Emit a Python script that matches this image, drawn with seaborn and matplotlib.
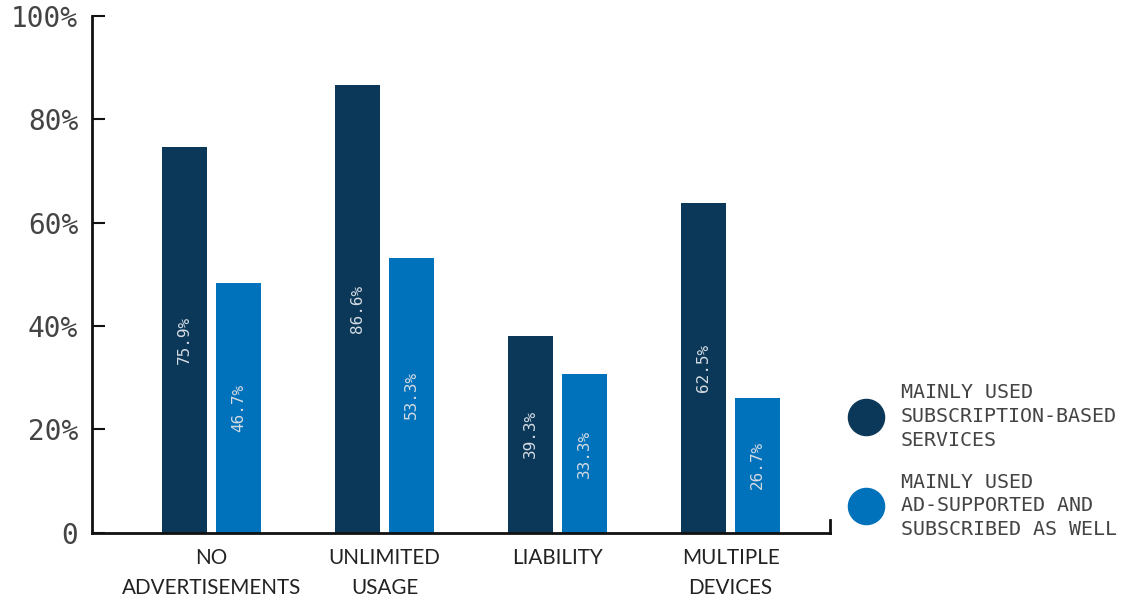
import matplotlib
matplotlib.use("Agg")
import matplotlib.pyplot as plt
from matplotlib.lines import Line2D
import seaborn as sns
import pandas as pd

categories = ["NO\nADVERTISEMENTS", "UNLIMITED\nUSAGE", "LIABILITY", "MULTIPLE\nDEVICES"]
series_names = ["MAINLY USED\nSUBSCRIPTION-BASED\nSERVICES",
                "MAINLY USED\nAD-SUPPORTED AND\nSUBSCRIBED AS WELL"]
subscription_values = [74.7, 86.7, 38.0, 63.8]
ad_supported_values = [48.4, 53.1, 30.6, 26.1]
subscription_labels = ["75.9%", "86.6%", "39.3%", "62.5%"]
ad_supported_labels = ["46.7%", "53.3%", "33.3%", "26.7%"]
y_ticks = [0, 20, 40, 60, 80, 100]
y_tick_labels = ["0", "20%", "40%", "60%", "80%", "100%"]

dark = "#0b3859"
light = "#0071bb"

df = pd.DataFrame({
    "category": categories * 2,
    "series": [series_names[0]] * 4 + [series_names[1]] * 4,
    "value": subscription_values + ad_supported_values,
})

sns.set_theme(style="white")
plt.rcParams["font.family"] = ["DejaVu Sans Mono"]

fig = plt.figure(figsize=(11.31, 6.01), dpi=100)
ax = fig.add_axes([92 / 1131, 1 - 532.5 / 601, (830 - 92) / 1131, (532.5 - 16) / 601])

sns.barplot(data=df, x="category", y="value", hue="series", order=categories,
            hue_order=series_names, palette=[dark, light], width=0.624, gap=0.167,
            legend=False, ax=ax, saturation=1, edgecolor="none", linewidth=0)

ax.set_ylim(0, 100)
ax.set_xlim(-0.69, 3.575)
ax.set_xlabel("")
ax.set_ylabel("")

# bar labels
all_labels = [subscription_labels, ad_supported_labels]
for cont, labs in zip(ax.containers, all_labels):
    for bar, lab in zip(cont, labs):
        cx = bar.get_x() + bar.get_width() / 2
        cy = bar.get_height() / 2
        ax.text(cx, cy, lab, rotation=90, ha="center", va="center",
                fontsize=11.5, color="#d5dbe2", family="DejaVu Sans Mono")

# spines
ax.spines["top"].set_visible(False)
ax.spines["right"].set_bounds(0, 2.5)
for s in ["left", "bottom", "right"]:
    ax.spines[s].set_color("#111111")
    ax.spines[s].set_linewidth(2)

ax.set_yticks(y_ticks)
ax.set_yticklabels(y_tick_labels)
ax.tick_params(axis="y", direction="in", length=9, width=1.5, color="#111111",
               pad=10, labelsize=20, labelcolor="#444444", left=True)
ax.tick_params(axis="x", length=0, pad=11.5)
for t in ax.get_xticklabels():
    t.set_family("Lato")
    t.set_fontweight("normal")
    t.set_fontsize(14.9)
    t.set_color("#222222")
    t.set_linespacing(1.58)

handles = [Line2D([], [], marker="o", ls="", color=dark, markersize=26),
           Line2D([], [], marker="o", ls="", color=light, markersize=26)]
leg = fig.legend(handles, series_names, loc="upper left",
                 bbox_to_anchor=(855 / 1131, 1 - 383 / 601), frameon=False,
                 prop={"family": "DejaVu Sans Mono", "size": 14.4},
                 handlelength=1.1, handletextpad=1.2, labelspacing=1.15,
                 borderpad=0, borderaxespad=0)
for t in leg.get_texts():
    t.set_color("#444444")
    t.set_linespacing(1.32)

fig.savefig("out.png", dpi=100)
